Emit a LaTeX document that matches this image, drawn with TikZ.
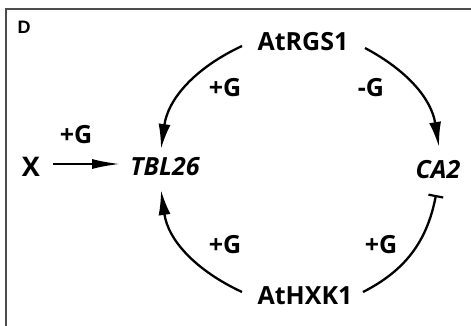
\documentclass[tikz,border=0pt]{standalone}
\usepackage{fontspec}
\setmainfont{Open Sans}
\newfontfamily\arialf{Liberation Sans}
\usetikzlibrary{arrows.meta}
\begin{document}
\begin{tikzpicture}[x=1pt,y=1pt,
  lbl/.style={font=\bfseries\fontsize{25}{29}\selectfont, inner sep=0pt},
  gene/.style={font=\bfseries\itshape\fontsize{25}{29}\selectfont, inner sep=0pt},
  conn/.style={line width=2.3pt},
  act/.style={conn, -{Latex[length=25pt,width=12pt]}},
  inh/.style={conn, -{Bar[width=15pt,line width=2.2pt]}}]
\useasboundingbox (0,0) rectangle (471,325);
\draw[line width=2pt, black!70] (5.5,-10) -- (5.5,316.5) -- (480,316.5);
\node[font=\arialf\bfseries\fontsize{18}{21}\selectfont, inner sep=0pt] (d) at (24,298) {D};
\node[lbl] (rgs) at (303,283) {AtRGS1};
\node[lbl] (hxk) at (305,29) {AtHXK1};
\node[gene] (tbl) at (165,158) {TBL26};
\node[gene] (ca2) at (438,155) {CA2};
\node[font=\bfseries\fontsize{27}{31}\selectfont, inner sep=0pt] (x) at (31,158) {X};
\node[lbl] (gx) at (76,190) {+G};
\node[lbl] (g1) at (225,237) {+G};
\node[lbl] (g2) at (371,237) {-G};
\node[lbl] (g3) at (225,80) {+G};
\node[lbl] (g4) at (381,80) {+G};
\coordinate (a1s) at (242,279);
\coordinate (a1e) at (161,176);
\coordinate (a2s) at (365,277);
\coordinate (a2e) at (439,178);
\coordinate (a3s) at (363,33);
\coordinate (a3e) at (436,130);
\coordinate (a4s) at (242,33);
\coordinate (a4e) at (161,135);
\coordinate (xs) at (53,161);
\coordinate (xe) at (120,161);
\draw[act] (a1s) to[out=205,in=82] (a1e);
\draw[act] (a2s) to[out=-28,in=99] (a2e);
\draw[inh] (a3s) to[out=27,in=259] (a3e);
\draw[act] (a4s) to[out=155,in=278] (a4e);
\draw[conn, line width=2pt, -{Latex[length=28pt,width=10pt]}] (xs) -- (xe);
\end{tikzpicture}
\end{document}
